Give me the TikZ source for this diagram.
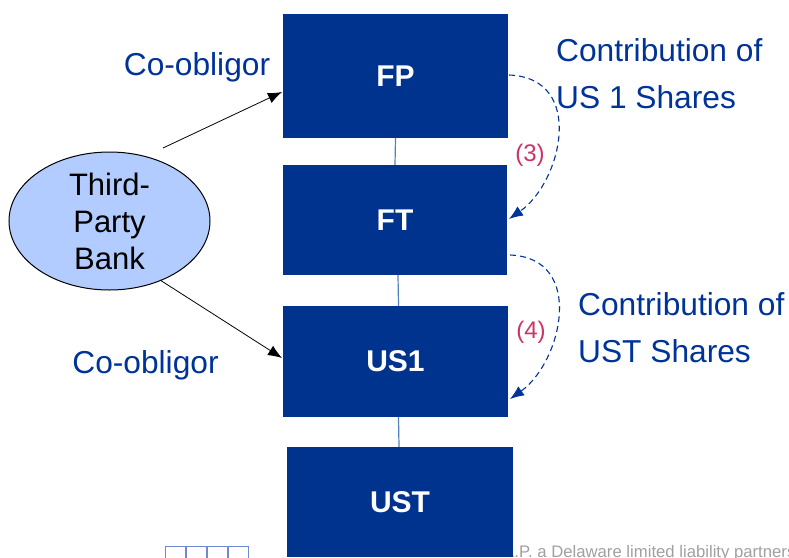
\documentclass[tikz,border=0pt]{standalone}
\usepackage{fontspec}
\setmainfont{Liberation Sans}
\usetikzlibrary{arrows.meta,shapes.geometric}
\definecolor{boxblue}{RGB}{0,51,141}
\definecolor{textblue}{RGB}{0,51,153}
\definecolor{linkblue}{RGB}{79,129,189}
\definecolor{bankfill}{RGB}{179,204,255}
\definecolor{stepred}{RGB}{204,51,102}
\definecolor{footgray}{RGB}{160,160,160}
\definecolor{tileblue}{RGB}{110,140,205}
\tikzset{
  entity/.style={draw=none, fill=boxblue, text=white, inner sep=0pt,
    font=\fontsize{30}{34}\selectfont\bfseries},
  bank/.style={ellipse, draw=black, line width=1pt, fill=bankfill, inner sep=0pt,
    minimum width=201pt, minimum height=138pt, align=center,
    font=\fontsize{31}{37}\selectfont},
  role/.style={text=textblue, font=\fontsize{31.7}{38}\selectfont, inner sep=0pt},
  contrib/.style={text=textblue, font=\fontsize{31.7}{47}\selectfont, inner sep=0pt, align=left},
  steplabel/.style={text=stepred, font=\fontsize{24}{28}\selectfont, inner sep=0pt},
  link/.style={draw=linkblue, line width=1.2pt},
  guarantee/.style={draw=black, line width=0.8pt, -{Latex[length=14pt,width=11pt]}},
  transfer/.style={draw=textblue, line width=1.1pt, dash pattern=on 6pt off 4pt,
    -{Latex[length=14pt,width=11pt]}},
}
\begin{document}
\begin{tikzpicture}[x=1pt,y=-1pt]
  \useasboundingbox (0,0) rectangle (789,557);

  % footer line (partly hidden behind the lowest box)
  \node[anchor=base west, inner sep=0pt, text=footgray, font=\fontsize{16.7}{20}\selectfont]
    (foot) at (505,557) {L.P. a Delaware limited liability partners};
  \foreach \i in {0,1,2,3}
    \draw[tileblue, line width=1pt] (165+21*\i,546) rectangle (185+21*\i,560);

  % entity chain
  \node[entity, minimum width=225pt, minimum height=124pt] (FP)  at (395.5,76)  {FP};
  \node[entity, minimum width=224pt, minimum height=110pt] (FT)  at (395,220)   {FT};
  \node[entity, minimum width=225pt, minimum height=111pt] (US1) at (395.5,361.5) {US1};
  \node[entity, minimum width=226pt, minimum height=110pt] (UST) at (400,502)   {UST};

  \draw[link] (FP.south) -- (FT.north);
  \draw[link] ([xshift=3pt]FT.south) -- ([xshift=3pt]US1.north);
  \draw[link] ([xshift=3pt]US1.south) -- ([xshift=-1pt]UST.north);

  % third-party bank and its guarantees
  \node[bank] (bank) at (109.5,221) {Third-\\Party\\Bank};
  \coordinate (g1s) at (163,148);
  \coordinate (g1e) at (282,92);
  \coordinate (g2s) at (160,280);
  \coordinate (g2e) at (282,358);
  \draw[guarantee] (g1s) -- (g1e);
  \draw[guarantee] (g2s) -- (g2e);

  \node[role] (co1) at (197,67)  {Co-obligor};
  \node[role] (co2) at (145.5,365) {Co-obligor};

  % share contributions
  \coordinate (t3s) at (509,75);
  \coordinate (t3e) at (509,219);
  \coordinate (t4s) at (510,255);
  \coordinate (t4e) at (510,399);
  \draw[transfer] (t3s) .. controls (586,78) and (562,182) .. (t3e);
  \draw[transfer] (t4s) .. controls (586,258) and (562,362) .. (t4e);

  \node[steplabel] (s3) at (530,155) {(3)};
  \node[steplabel] (s4) at (531,332) {(4)};

  \node[contrib, anchor=north west] (c3) at (556,38)  {Contribution of\\US 1 Shares};
  \node[contrib, anchor=north west] (c4) at (578,292) {Contribution of\\UST Shares};
\end{tikzpicture}
\end{document}
